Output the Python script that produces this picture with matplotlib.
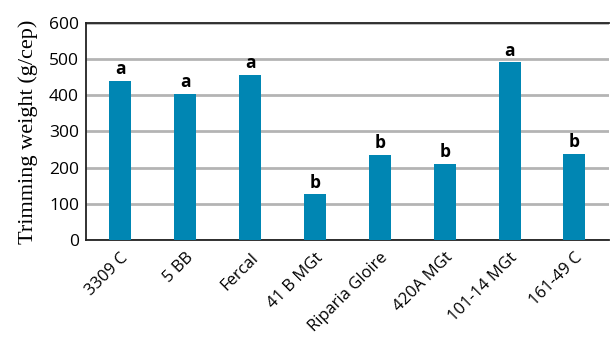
import numpy as np
import matplotlib
matplotlib.use('Agg')
import matplotlib.pyplot as plt

rootstocks = ['3309 C', '5 BB', 'Fercal', '41 B MGt', 'Riparia Gloire',
              '420A MGt', '101-14 MGt', '161-49 C']
weights = [440, 404, 457, 126, 235, 211, 491, 237]
groups = ['a', 'a', 'a', 'b', 'b', 'b', 'a', 'b']

fig = plt.figure(figsize=[6.1, 3.38], dpi=100)
ax = fig.add_axes([0.141, 0.29, 0.857, 0.642])

x = np.arange(len(rootstocks))
ax.bar(x, weights, width=0.34, color='#0086b3', zorder=3)

# буквы значимости над столбиками
for i in range(len(x)):
    ax.text(x[i], weights[i] + 8, groups[i], ha='center', va='bottom',
            fontsize=12.5, fontweight='bold', family='Open Sans')

ax.set_xlim(-0.53, len(x) - 0.47)
ax.set_ylim(0, 600)
ax.set_yticks(np.arange(0, 601, 100))
ax.yaxis.grid(True, color='#b4b4b4', linewidth=2, zorder=0)
ax.set_axisbelow(True)

ax.set_xticks(x)
ax.set_xticklabels(rootstocks, rotation=45, ha='right', rotation_mode='anchor',
                   fontsize=12, family='Open Sans')
for lab in ax.get_yticklabels():
    lab.set_family('Open Sans')
    lab.set_fontsize(12.5)
ax.tick_params(axis='both', length=0, pad=5)
ax.tick_params(axis='x', pad=7)

ax.set_ylabel('Trimming weight (g/cep)', family='Liberation Serif', fontsize=16,
              labelpad=8)

ax.spines['right'].set_visible(False)
for s in ['top', 'left', 'bottom']:
    ax.spines[s].set_color('#222222')
    ax.spines[s].set_linewidth(1.3)

plt.savefig('out.png', dpi=100)
